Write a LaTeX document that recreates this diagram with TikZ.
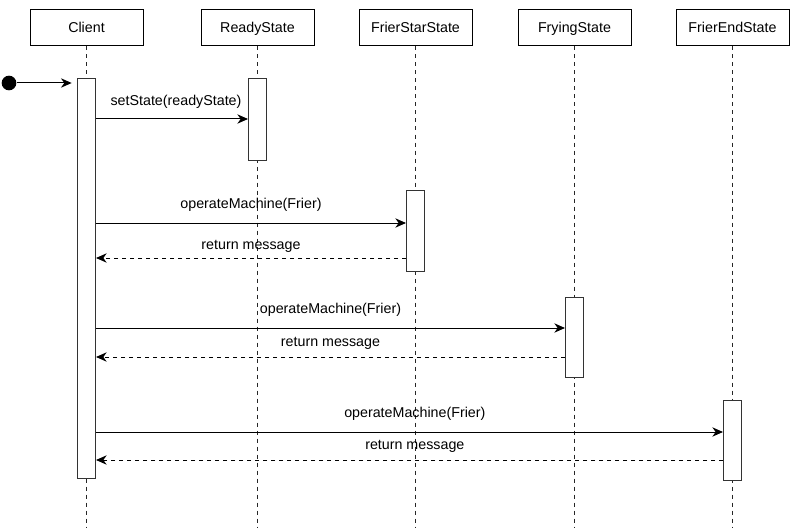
\documentclass[tikz,border=0pt]{standalone}
\usepackage{fontspec}
\setmainfont{Liberation Sans}
\usetikzlibrary{arrows.meta, positioning}

\begin{document}
\begin{tikzpicture}[
  x=0.75pt, y=-0.75pt,
  line width=0.75pt,
  font=\fontsize{10.7}{12.8}\selectfont,
  head/.style={rectangle, draw, fill=white, minimum width=84.75pt,
               minimum height=27pt, inner sep=0pt, text height=8pt, text depth=1pt},
  bar/.style={rectangle, draw=black!80, fill=white, minimum width=13.5pt,
              inner sep=0pt},
  life/.style={dash pattern=on 3pt off 3pt, black!85},
  msg/.style={-{Stealth[length=8pt, width=7pt, inset=2.5pt]}},
  ret/.style={msg, dash pattern=on 3pt off 3pt},
  lbl/.style={midway, inner sep=0pt},
]
\useasboundingbox (0,0) rectangle (800,528);
% Cabeceras de los participantes
\node[head] (client) at (86.5,28)  {Client};
\node[head] (ready)  at (257.5,28) {ReadyState};
\node[head] (star)   at (415.5,28) {FrierStarState};
\node[head] (frying) at (574.5,28) {FryingState};
\node[head] (fend)   at (732.5,28) {FrierEndState};
% Lineas de vida
\draw[life] (client.south) -- (client.south |- 0,528);
\draw[life] (ready.south)  -- (ready.south |- 0,528);
\draw[life] (star.south)   -- (star.south |- 0,528);
\draw[life] (frying.south) -- (frying.south |- 0,528);
\draw[life] (fend.south)   -- (fend.south |- 0,528);
% Barras de activacion
\node[bar, minimum height=299.25pt] (cbar) at (86.5,278.5) {};
\node[bar, minimum height=60.75pt]  (rbar) at (257.5,119.5) {};
\node[bar, minimum height=60.75pt]  (sbar) at (415.5,230.5) {};
\node[bar, minimum height=60pt]     (ybar) at (574.5,337) {};
\node[bar, minimum height=60pt]     (ebar) at (732.5,440) {};
% Punto inicial
\node[circle, fill=black, minimum size=11pt, inner sep=0pt] (start) at (9,83) {};
\draw[msg, shorten >=4pt] (start) -- (cbar.west |- start);
% Mensajes
\draw[msg] (cbar.east |- 0,119) -- (rbar.west |- 0,119)
  node[lbl, yshift=13pt, xshift=3pt] {setState(readyState)};
\draw[msg] (cbar.east |- 0,223) -- (sbar.west |- 0,223)
  node[lbl, yshift=14pt] {operateMachine(Frier)};
\draw[ret] (sbar.west |- 0,258) -- (cbar.east |- 0,258)
  node[lbl, yshift=9pt] {return message};
\draw[msg] (cbar.east |- 0,328) -- (ybar.west |- 0,328)
  node[lbl, yshift=13.5pt] {operateMachine(Frier)};
\draw[ret] (ybar.west |- 0,357) -- (cbar.east |- 0,357)
  node[lbl, yshift=10.5pt] {return message};
\draw[msg] (cbar.east |- 0,432) -- (ebar.west |- 0,432)
  node[lbl, yshift=14pt, xshift=4pt] {operateMachine(Frier)};
\draw[ret] (ebar.west |- 0,460) -- (cbar.east |- 0,460)
  node[lbl, yshift=10.5pt, xshift=4pt] {return message};
\end{tikzpicture}
\end{document}
